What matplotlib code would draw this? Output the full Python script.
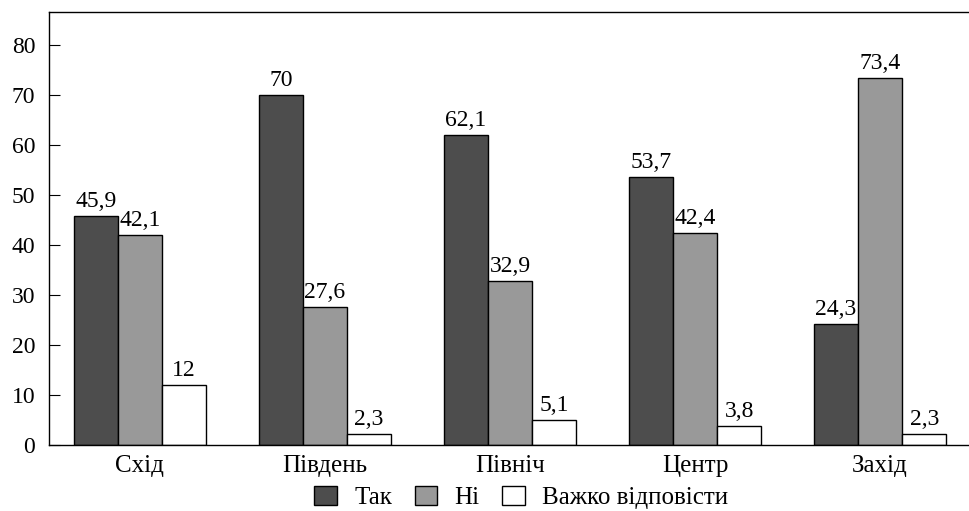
import matplotlib.pyplot as plt
from matplotlib.patches import Patch
import numpy as np

plt.rcParams['font.family'] = ['Liberation Serif', 'DejaVu Serif']

# Дані
regions = ['Схід', 'Південь', 'Північ', 'Центр', 'Захід']
tak = [45.9, 70, 62.1, 53.7, 24.3]
ni = [42.1, 27.6, 32.9, 42.4, 73.4]
vazhko = [12, 2.3, 5.1, 3.8, 2.3]
series_names = ['Так', 'Ні', 'Важко відповісти']
yticks = [0, 10, 20, 30, 40, 50, 60, 70, 80]


def fmt(v):
    s = ('%.1f' % v).rstrip('0').rstrip('.')
    return s.replace('.', ',')


fig = plt.figure(figsize=(9.69, 5.11), dpi=100)
ax = fig.add_axes([0.0506, 0.129, 0.9494, 0.847])

x = np.arange(len(regions))
w = 0.238
colors = ['#4d4d4d', '#999999', '#ffffff']
for i, (vals, col) in enumerate(zip([tak, ni, vazhko], colors)):
    bars = ax.bar(x + (i - 1) * w, vals, w, color=col, edgecolor='black', linewidth=1)
    for b, v in zip(bars, vals):
        ax.text(b.get_x() + b.get_width() / 2, v + 0.8, fmt(v),
                ha='center', va='bottom', fontsize=17)

ax.set_xlim(-0.49, 4.48)
ax.set_ylim(0, 86.6)
ax.set_yticks(yticks)
ax.set_xticks(x)
ax.set_xticklabels(regions, fontsize=18)
ax.tick_params(axis='y', direction='in', length=8, labelsize=17, pad=10)
ax.tick_params(axis='x', length=0, pad=7)
ax.spines['right'].set_visible(False)
for s in ['left', 'top', 'bottom']:
    ax.spines[s].set_linewidth(1)

handles = [Patch(facecolor=c, edgecolor='black', label=n) for c, n in zip(colors, series_names)]
fig.legend(handles=handles, loc='center', bbox_to_anchor=(0.538, 0.026), ncol=3,
           frameon=False, fontsize=18, handlelength=0.9, handleheight=0.8,
           handletextpad=0.7, columnspacing=0.9, borderaxespad=0)

fig.savefig('out.png', dpi=100)
